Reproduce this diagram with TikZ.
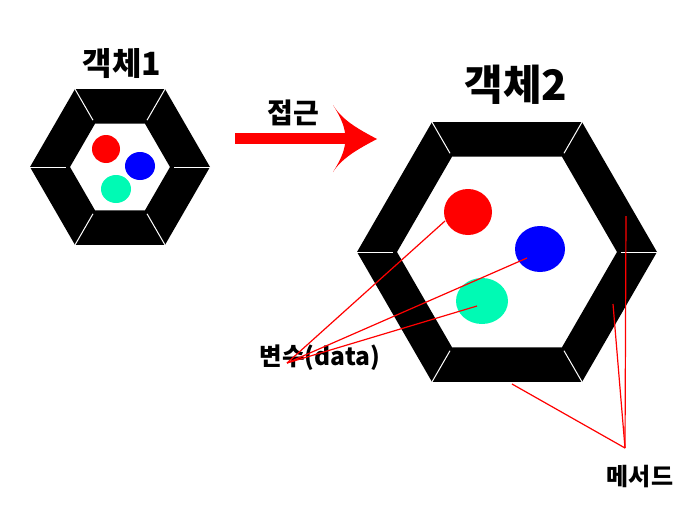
\documentclass[tikz,border=0pt]{standalone}
\usepackage{fontspec}
\newfontfamily\krfont{Noto Sans CJK KR}
\usetikzlibrary{positioning}
\definecolor{mint}{RGB}{0,250,180}

\begin{document}
\begin{tikzpicture}[x=1pt, y=-1pt,
    title/.style={font=\krfont\bfseries\fontsize{#1}{#1}\selectfont, anchor=base, inner sep=0pt},
    pointer/.style={red, line width=1.2pt},
    sep/.style={white, line width=1pt}]
  \useasboundingbox (0,0) rectangle (696,506);
  % two objects: frame ring of methods, data inside
  \foreach \cx/\cy/\ro/\ri in {120/167/90/50, 507/252/150/110} {
    \fill[black, even odd rule, shift={(\cx,\cy)}]
      (0:\ro) -- (60:\ro) -- (120:\ro) -- (180:\ro) -- (240:\ro) -- (300:\ro) -- cycle
      (0:\ri) -- (60:\ri) -- (120:\ri) -- (180:\ri) -- (240:\ri) -- (300:\ri) -- cycle;
    \foreach \a in {0,60,...,300}
      \draw[sep, shift={(\cx,\cy)}] (\a:\ro) -- (\a:{\ri+4});
  }
  \fill[red]  (106,149) ellipse [x radius=14, y radius=14];
  \fill[blue] (140,166) ellipse [x radius=15, y radius=14];
  \fill[mint] (116,189) ellipse [x radius=15, y radius=14];
  \fill[red]  (468,212) ellipse [x radius=24, y radius=23];
  \fill[blue] (540,249) ellipse [x radius=25, y radius=23];
  \fill[mint] (482,301) ellipse [x radius=26, y radius=23];

  \node[title=32] (obj1) at (122,75) {객체1};
  \node[title=42] (obj2) at (516,100) {객체2};
  \node[title=28] (acc) at (293,123) {접근};
  \node[title=24.5] (var) at (320,365) {변수(data)};
  \node[title=24] (meth) at (640,485) {메서드};

  % access arrow
  \fill[red] (235,133) rectangle (345,144);
  \fill[red] (377,139) .. controls (358,129) and (342,120) .. (333,105)
    .. controls (340,116) and (344,125) .. (345,133) -- (345,144)
    .. controls (344,152) and (340,161) .. (333,172)
    .. controls (342,158) and (358,149) .. cycle;

  \coordinate (vp) at (287,363);
  \coordinate (mp) at (625,448);
  \coordinate (d1) at (445,221);
  \coordinate (d2) at (527,258);
  \coordinate (d3) at (477,306);
  \coordinate (m1) at (626,216);
  \coordinate (m2) at (613,304);
  \coordinate (m3) at (512,384);
  \foreach \p in {d1,d2,d3} \draw[pointer] (vp) -- (\p);
  \foreach \p in {m1,m2,m3} \draw[pointer] (mp) -- (\p);
\end{tikzpicture}
\end{document}
